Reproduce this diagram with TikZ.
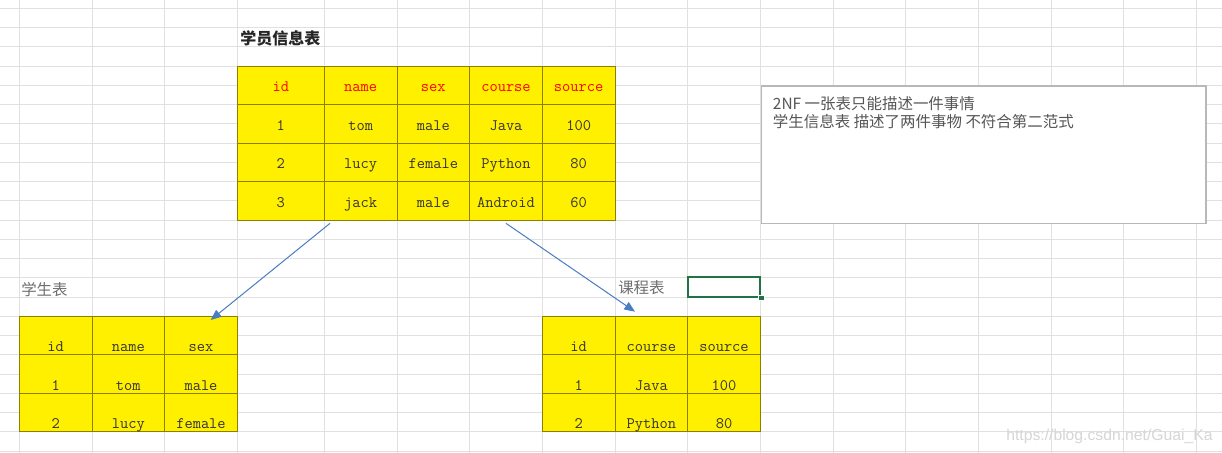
\documentclass[tikz,border=0pt]{standalone}
\usepackage{fontspec}
\usetikzlibrary{arrows.meta,calc}
\newfontfamily\cjkfont{Noto Sans CJK SC}
\newfontfamily\wmfont{Liberation Sans}
\definecolor{gridc}{HTML}{E0E0E0}
\definecolor{cellyel}{HTML}{FFF000}
\definecolor{cellbd}{HTML}{8C8000}
\definecolor{arrowc}{HTML}{4A7CC4}
\definecolor{xlgreen}{HTML}{217346}
\definecolor{txtdark}{HTML}{333333}
\definecolor{notec}{HTML}{555555}
\definecolor{labc}{HTML}{6E6E6E}
\definecolor{wmc}{HTML}{D6D6D6}
\begin{document}
\begin{tikzpicture}[x=0.75pt,y=-0.75pt,
  gridline/.style={draw=gridc, line width=0.75pt},
  cell/.style={draw=cellbd, fill=cellyel, line width=0.6pt, inner sep=0pt, outer sep=0pt,
    minimum height=28.875pt, minimum width=54.5pt,
    font=\ttfamily\fontsize{12pt}{14pt}\selectfont, text=txtdark},
  wide/.style={minimum width=65.25pt},
  hdr/.style={text=red},
  mid/.style={text height=19.27pt, text depth=9.6pt, inner ysep=0pt},
  low/.style={text height=26.6pt, text depth=2.25pt, inner ysep=0pt},
  tlabel/.style={anchor=base west, inner sep=0pt, font=\cjkfont\fontsize{11.6pt}{13pt}\selectfont, text=labc},
  notetext/.style={anchor=base west, inner sep=0pt, font=\cjkfont\fontsize{11.6pt}{13pt}\selectfont, text=notec},
  link/.style={draw=arrowc, line width=0.75pt, -{Triangle[length=8pt,width=6.5pt]}}
]
\useasboundingbox (0,0) rectangle (1222,453);
\fill[white] (0,0) rectangle (1222,453);
% spreadsheet grid
\foreach \k in {0,...,23} {
  \draw[gridline] (0,{8.3+19.25*\k}) -- (1222,{8.3+19.25*\k});
}
\foreach \gx in {19.3,92,164.7,237.3,324.3,397,469.7,542.3,615,687.7,760.3,833,905.7,978.3,1051,1123.7,1196.4} {
  \draw[gridline] (\gx,0) -- (\gx,453);
}

% top table
\node[tlabel, text=black!85, font=\cjkfont\fontsize{12pt}{14pt}\selectfont\bfseries] (ttitle) at (240,45) {学员信息表};
\node[cell,mid,wide,hdr] (t-0-0) at (280.8,85.3) {id};
\node[cell,mid,hdr] (t-0-1) at (360.65,85.3) {name};
\node[cell,mid,hdr] (t-0-2) at (433.35,85.3) {sex};
\node[cell,mid,hdr] (t-0-3) at (506,85.3) {course};
\node[cell,mid,hdr] (t-0-4) at (578.65,85.3) {source};
\node[cell,mid,wide] (t-1-0) at (280.8,123.8) {1};
\node[cell,mid] (t-1-1) at (360.65,123.8) {tom};
\node[cell,mid] (t-1-2) at (433.35,123.8) {male};
\node[cell,mid] (t-1-3) at (506,123.8) {Java};
\node[cell,mid] (t-1-4) at (578.65,123.8) {100};
\node[cell,mid,wide] (t-2-0) at (280.8,162.3) {2};
\node[cell,mid] (t-2-1) at (360.65,162.3) {lucy};
\node[cell,mid] (t-2-2) at (433.35,162.3) {female};
\node[cell,mid] (t-2-3) at (506,162.3) {Python};
\node[cell,mid] (t-2-4) at (578.65,162.3) {80};
\node[cell,mid,wide] (t-3-0) at (280.8,200.8) {3};
\node[cell,mid] (t-3-1) at (360.65,200.8) {jack};
\node[cell,mid] (t-3-2) at (433.35,200.8) {male};
\node[cell,mid] (t-3-3) at (506,200.8) {Android};
\node[cell,mid] (t-3-4) at (578.65,200.8) {60};

% student table
\node[tlabel] (bltitle) at (21,295) {学生表};
\node[cell,low] (bl-0-0) at (55.65,335.55) {id};
\node[cell,low] (bl-0-1) at (128.35,335.55) {name};
\node[cell,low] (bl-0-2) at (201,335.55) {sex};
\node[cell,low] (bl-1-0) at (55.65,374.05) {1};
\node[cell,low] (bl-1-1) at (128.35,374.05) {tom};
\node[cell,low] (bl-1-2) at (201,374.05) {male};
\node[cell,low] (bl-2-0) at (55.65,412.55) {2};
\node[cell,low] (bl-2-1) at (128.35,412.55) {lucy};
\node[cell,low] (bl-2-2) at (201,412.55) {female};

% course table
\node[tlabel] (brtitle) at (618,293.7) {课程表};
\node[cell,low] (br-0-0) at (578.65,335.55) {id};
\node[cell,low] (br-0-1) at (651.35,335.55) {course};
\node[cell,low] (br-0-2) at (724,335.55) {source};
\node[cell,low] (br-1-0) at (578.65,374.05) {1};
\node[cell,low] (br-1-1) at (651.35,374.05) {Java};
\node[cell,low] (br-1-2) at (724,374.05) {100};
\node[cell,low] (br-2-0) at (578.65,412.55) {2};
\node[cell,low] (br-2-1) at (651.35,412.55) {Python};
\node[cell,low] (br-2-2) at (724,412.55) {80};

% selected cell
\node[draw=xlgreen, line width=1.5pt, inner sep=0pt, minimum width=54.3pt, minimum height=14.4pt] (sel) at (724,287) {};
\node[fill=xlgreen, draw=white, line width=0.4pt, inner sep=0pt, minimum size=4pt] (handle) at (sel.south east) {};

% note box
\node[draw=black!28, fill=white, line width=0.9pt, inner sep=0pt, minimum width=333.2pt, minimum height=103pt] (note) at (983.85,154.65) {};
\node[notetext] (note1) at (772.7,109) {2NF 一张表只能描述一件事情};
\node[notetext] (note2) at (772.7,127.2) {学生信息表 描述了两件事物 不符合第二范式};

% arrows
\coordinate (a1s) at ($(t-3-1.south west)+(5.7,3.3)$);
\coordinate (a1e) at ($(bl-0-2.north west)+(46,3.7)$);
\coordinate (a2s) at ($(t-3-3.south)+(0,3.3)$);
\coordinate (a2e) at ($(br-0-1.north west)+(20,-4.6)$);
\draw[link] (a1s) -- (a1e);
\draw[link] (a2s) -- (a2e);

% watermark
\node[anchor=base west, inner sep=0pt, font=\wmfont\fontsize{11.8pt}{13pt}\selectfont, text=wmc] (wm) at (1006,440) {https://blog.csdn.net/Guai\_Ka};
\end{tikzpicture}
\end{document}
